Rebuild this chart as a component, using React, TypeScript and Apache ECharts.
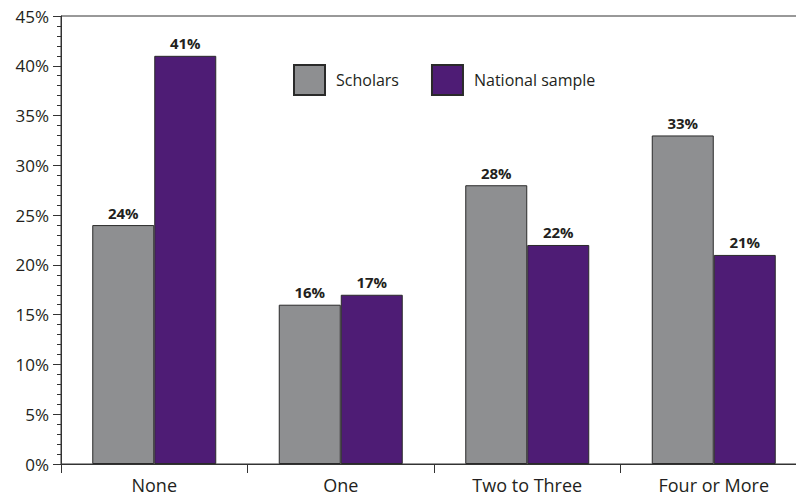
import React, { useEffect, useRef } from "react";
import * as echarts from "echarts";

const categories = ["None", "One", "Two to Three", "Four or More"];
const scholars = [24, 16, 28, 33];
const nationalSample = [41, 17, 22, 21];
const seriesNames = ["Scholars", "National sample"];

const FONT = "'Open Sans', 'Noto Sans', sans-serif";
const INK = "#231f20";

// The plot runs past the right edge of the visible frame, so the chart is
// drawn on a wider canvas and clipped by its parent.
const CANVAS_W = 830;
const VIEW_W = 796;
const VIEW_H = 500;

export default function App() {
  const ref = useRef<HTMLDivElement>(null);

  useEffect(() => {
    if (!ref.current) return;
    const chart = echarts.init(ref.current, undefined, { renderer: "svg" });

    const barLabel = {
      show: true,
      position: "top",
      distance: 5,
      formatter: "{c}%",
      fontFamily: FONT,
      fontWeight: "bold",
      fontSize: 15,
      color: INK,
    };

    chart.setOption({
      animation: false,
      backgroundColor: "#ffffff",
      grid: {
        left: 61,
        width: 746,
        top: 16,
        height: 448,
        show: true,
        borderColor: "#333333",
        borderWidth: 1,
        backgroundColor: "transparent",
      },
      legend: {
        left: 288,
        top: 59,
        itemWidth: 31,
        itemHeight: 30,
        itemGap: 32,
        icon: "rect",
        data: seriesNames,
        textStyle: {
          fontFamily: FONT,
          fontSize: 16,
          color: INK,
          padding: [0, 0, 0, 6],
        },
      },
      xAxis: {
        type: "category",
        data: categories,
        axisLine: { lineStyle: { color: "#333333", width: 1 } },
        axisTick: {
          show: true,
          alignWithLabel: false,
          length: 9,
          lineStyle: { color: "#333333" },
        },
        axisLabel: {
          margin: 12,
          fontFamily: FONT,
          fontSize: 18,
          color: INK,
        },
      },
      yAxis: {
        type: "value",
        min: 0,
        max: 45,
        interval: 5,
        splitLine: { show: false },
        axisLine: { show: true, lineStyle: { color: "#333333", width: 1 } },
        axisTick: { show: true, length: 8, lineStyle: { color: "#333333" } },
        minorTick: {
          show: true,
          splitNumber: 5,
          length: 4,
          lineStyle: { color: "#333333" },
        },
        axisLabel: {
          margin: 12,
          formatter: "{value}%",
          fontFamily: FONT,
          fontSize: 17,
          color: INK,
        },
      },
      series: [
        {
          name: seriesNames[0],
          type: "bar",
          data: scholars,
          barWidth: 62,
          barGap: "0%",
          itemStyle: { color: "#8e8f91", borderColor: "#2a2a2a", borderWidth: 1 },
          label: barLabel,
        },
        {
          name: seriesNames[1],
          type: "bar",
          data: nationalSample,
          barWidth: 62,
          barGap: "0%",
          itemStyle: { color: "#4e1c75", borderColor: "#2a2a2a", borderWidth: 1 },
          label: barLabel,
        },
      ],
    });

    return () => chart.dispose();
  }, []);

  return (
    <div
      style={{
        position: "fixed",
        left: 0,
        top: 0,
        width: VIEW_W,
        height: VIEW_H,
        overflow: "hidden",
        background: "#ffffff",
      }}
    >
      <div ref={ref} style={{ width: CANVAS_W, height: VIEW_H }} />
    </div>
  );
}
